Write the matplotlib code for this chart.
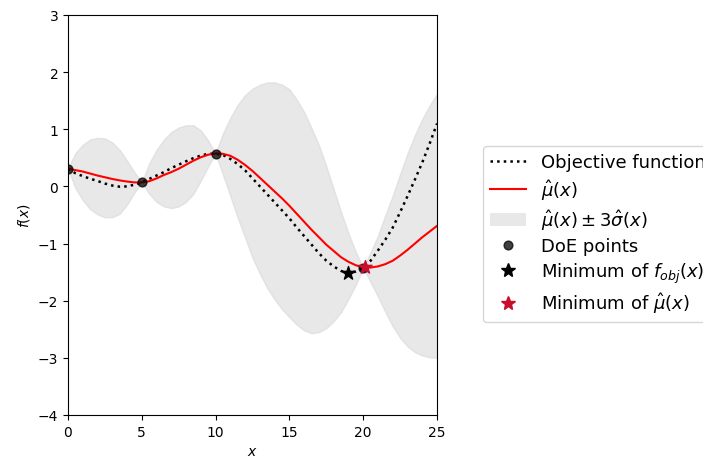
#!/usr/bin/env python3

import matplotlib
matplotlib.use("Agg")
import matplotlib.pyplot as plt
from matplotlib.lines import Line2D
from matplotlib.patches import Patch

# sample grid (x) every half unit
x = [0.0, 0.5, 1.0, 1.5, 2.0, 2.5, 3.0, 3.5, 4.0, 4.5, 5.0,
     5.5, 6.0, 6.5, 7.0, 7.5, 8.0, 8.5, 9.0, 9.5, 10.0,
     10.5, 11.0, 11.5, 12.0, 12.5, 13.0, 13.5, 14.0, 14.5, 15.0,
     15.5, 16.0, 16.5, 17.0, 17.5, 18.0, 18.5, 19.0, 19.5, 20.0,
     20.5, 21.0, 21.5, 22.0, 22.5, 23.0, 23.5, 24.0, 24.5, 25.0]

f_obj = [0.31, 0.23, 0.18, 0.135, 0.095, 0.05, 0.015, -0.005, 0.0, 0.03, 0.07,
         0.13, 0.19, 0.25, 0.32, 0.38, 0.44, 0.495, 0.54, 0.57, 0.575,
         0.55, 0.48, 0.39, 0.28, 0.14, 0.0, -0.14, -0.28, -0.42, -0.56,
         -0.72, -0.87, -1.02, -1.17, -1.30, -1.40, -1.48, -1.515, -1.49, -1.42,
         -1.30, -1.12, -0.93, -0.72, -0.45, -0.17, 0.12, 0.42, 0.75, 1.1]

mu_hat = [0.31, 0.285, 0.26, 0.225, 0.19, 0.16, 0.13, 0.105, 0.085, 0.07, 0.07,
          0.09, 0.14, 0.2, 0.25, 0.31, 0.38, 0.45, 0.51, 0.555, 0.575,
          0.57, 0.535, 0.465, 0.375, 0.27, 0.15, 0.03, -0.09, -0.21, -0.34,
          -0.48, -0.62, -0.76, -0.89, -1.02, -1.13, -1.24, -1.32, -1.38, -1.42,
          -1.42, -1.40, -1.36, -1.30, -1.21, -1.11, -1.0, -0.89, -0.79, -0.69]

band_upper = [0.31, 0.58, 0.73, 0.82, 0.85, 0.84, 0.77, 0.64, 0.45, 0.25, 0.07,
              0.40, 0.64, 0.82, 0.95, 1.03, 1.07, 1.07, 0.98, 0.80, 0.575,
              0.93, 1.2, 1.43, 1.6, 1.71, 1.78, 1.82, 1.82, 1.78, 1.7,
              1.52, 1.3, 1.02, 0.72, 0.35, -0.05, -0.45, -0.82, -1.15, -1.42,
              -1.15, -0.86, -0.5, -0.16, 0.22, 0.58, 0.9, 1.18, 1.42, 1.62]

band_lower = [0.31, -0.03, -0.24, -0.4, -0.49, -0.54, -0.54, -0.48, -0.32, -0.11, 0.07,
              -0.13, -0.27, -0.35, -0.38, -0.35, -0.27, -0.13, 0.1, 0.35, 0.575,
              0.2, -0.17, -0.55, -0.9, -1.25, -1.53, -1.78, -1.98, -2.15, -2.29,
              -2.42, -2.52, -2.57, -2.55, -2.48, -2.36, -2.2, -1.97, -1.72, -1.42,
              -1.68, -1.93, -2.2, -2.45, -2.65, -2.8, -2.9, -2.96, -2.99, -3.0]

doe_x = [0, 5, 10, 20]
doe_y = [0.31, 0.07, 0.575, -1.42]

min_obj = (18.95, -1.515)
min_mu = (20.1, -1.415)

fig = plt.figure(figsize=(7.03, 4.6), dpi=100)
ax = fig.add_axes([0.0967, 0.0957, 0.525, 0.8696])

ax.fill_between(x, band_lower, band_upper, color="lightgrey", alpha=0.5)
ax.plot(x, f_obj, color="black", ls=":", lw=1.8)
ax.plot(x, mu_hat, color="red", lw=1.5)
ax.scatter(doe_x, doe_y, s=40, color="black", alpha=0.75, zorder=3)
ax.scatter(*min_obj, marker="*", s=100, color="black", zorder=4)
ax.scatter(*min_mu, marker="*", s=100, color="#c8102e", zorder=4)

ax.set_xlim(0, 25)
ax.set_ylim(-4, 3)
ax.set_xlabel("$x$")
ax.set_ylabel("$f(x)$")

handles = [
    Line2D([], [], color="black", ls=":", lw=1.8),
    Line2D([], [], color="red", lw=1.5),
    Patch(facecolor="lightgrey", alpha=0.5, edgecolor="none"),
    Line2D([], [], ls="none", marker="o", ms=6.3, color="black", alpha=0.75),
    Line2D([], [], ls="none", marker="*", ms=10, color="black"),
    Line2D([], [], ls="none", marker="*", ms=10, color="#c8102e"),
]
labels = [
    "Objective function",
    r"$\hat{\mu}(x)$",
    r"$\hat{\mu}(x) \pm 3\hat{\sigma}(x)$",
    "DoE points",
    r"Minimum of $f_{obj}(x)$",
    r"Minimum of $\hat{\mu}(x)$",
]
# the legend sits outside the axes and runs past the figure edge, as in the reference
ax.legend(handles, labels, loc="center left", bbox_to_anchor=(1.1, 0.452),
          fontsize=13, labelspacing=0.3)

fig.savefig("out.png", dpi=100)
